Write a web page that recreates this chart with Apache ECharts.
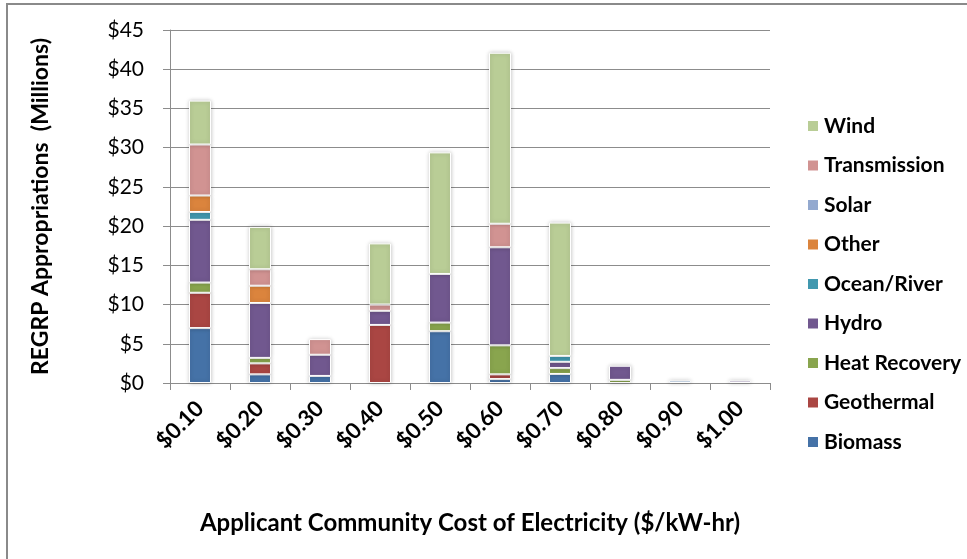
<!DOCTYPE html>
<html>
<head>
<meta charset="utf-8">
<script src="https://cdn.jsdelivr.net/npm/echarts@6/dist/echarts.min.js"></script>
<style>
  html, body { margin: 0; padding: 0; background: #fff; }
  #chart { width: 967px; height: 559px; }
</style>
</head>
<body>
<div id="chart"></div>
<script>
// Cost-of-electricity buckets ($/kW-hr)
const categories = ['$0.10', '$0.20', '$0.30', '$0.40', '$0.50', '$0.60', '$0.70', '$0.80', '$0.90', '$1.00'];

// Appropriations by technology, $ millions (stacked bottom to top)
const biomass      = [7.0, 1.1, 0.9, 0,   6.6,  0.5, 1.15, 0,   0.3, 0];
const geothermal   = [4.5, 1.4, 0,   7.4, 0,    0.6, 0,    0,   0,   0];
const heatRecovery = [1.3, 0.7, 0,   0,   1.1,  3.7, 0.75, 0.4, 0,   0];
const hydro        = [8.0, 7.0, 2.7, 1.8, 6.2, 12.5, 0.8,  1.8, 0,   0.3];
const oceanRiver   = [1.0, 0,   0,   0,   0,    0,   0.75, 0,   0,   0];
const other        = [2.1, 2.2, 0,   0,   0,    0,   0,    0,   0,   0];
const solar        = [0,   0,   0,   0,   0,    0,   0,    0,   0,   0];
const transmission = [6.5, 2.1, 2.0, 0.8, 0,    3.0, 0,    0,   0,   0];
const wind         = [5.6, 5.4, 0,   7.8, 15.5, 21.8, 17.0, 0,  0,   0];

const yTicks = [0, 5, 10, 15, 20, 25, 30, 35, 40, 45];

const seriesDefs = [
  { name: 'Biomass',       data: biomass,      color: '#4572A7' },
  { name: 'Geothermal',    data: geothermal,   color: '#AA4643' },
  { name: 'Heat Recovery', data: heatRecovery, color: '#89A54E' },
  { name: 'Hydro',         data: hydro,        color: '#71588F' },
  { name: 'Ocean/River',   data: oceanRiver,   color: '#4198AF' },
  { name: 'Other',         data: other,        color: '#DB843D' },
  { name: 'Solar',         data: solar,        color: '#93A9CF' },
  { name: 'Transmission',  data: transmission, color: '#D19392' },
  { name: 'Wind',          data: wind,         color: '#B9CD96' }
];

const FONT = 'Lato, "Open Sans", sans-serif';

const chart = echarts.init(document.getElementById('chart'), null, { renderer: 'canvas' });

chart.setOption({
  backgroundColor: '#fff',
  animation: false,
  grid: { left: 170, right: 197, top: 30, bottom: 176 },
  legend: {
    orient: 'vertical',
    left: 801,
    top: 109,
    itemWidth: 12,
    itemHeight: 12,
    itemGap: 15.5,
    icon: 'rect',
    data: seriesDefs.map(s => s.name).reverse(),
    textStyle: { fontFamily: FONT, fontSize: 21, fontWeight: 'bold', color: '#000', lineHeight: 24, padding: [0, 0, 0, 0] }
  },
  xAxis: {
    type: 'category',
    data: categories,
    name: 'Applicant Community Cost of Electricity ($/kW-hr)',
    nameLocation: 'middle',
    nameGap: 128,
    nameTextStyle: { fontFamily: FONT, fontSize: 24, fontWeight: 'bold', color: '#000' },
    axisLine: { lineStyle: { color: '#8c8c8c', width: 1 } },
    axisTick: { show: true, alignWithLabel: false, length: 7, lineStyle: { color: '#8c8c8c' } },
    axisLabel: { rotate: 45, margin: 22, fontFamily: FONT, fontSize: 22, fontWeight: 'bold', color: '#000' }
  },
  yAxis: {
    type: 'value',
    min: yTicks[0],
    max: yTicks[yTicks.length - 1],
    interval: yTicks[1] - yTicks[0],
    name: 'REGRP Appropriations  (Millions)',
    nameLocation: 'middle',
    nameRotate: 90,
    nameGap: 118,
    nameTextStyle: { fontFamily: FONT, fontSize: 23, fontWeight: 'bold', color: '#000' },
    axisLine: { show: true, lineStyle: { color: '#8c8c8c', width: 1 } },
    axisTick: { show: true, length: 7, lineStyle: { color: '#8c8c8c' } },
    axisLabel: { margin: 26, fontFamily: FONT, fontSize: 21, color: '#000', formatter: v => '$' + v },
    splitLine: { lineStyle: { color: '#8c8c8c', width: 1 } }
  },
  series: seriesDefs.map(s => ({
    name: s.name,
    type: 'bar',
    stack: 'total',
    barWidth: 22,
    data: s.data.map(v => (v > 0 ? v : null)),
    itemStyle: {
      color: s.color,
      borderColor: '#fff',
      borderWidth: 1,
      shadowBlur: 4,
      shadowColor: 'rgba(0,0,0,0.22)'
    }
  })),
  graphic: [
    {
      type: 'polyline',
      shape: { points: [[7, 559], [7, 4], [967, 4]] },
      style: { stroke: '#8a8a8a', lineWidth: 2, fill: null },
      silent: true
    }
  ]
});
</script>
</body>
</html>
